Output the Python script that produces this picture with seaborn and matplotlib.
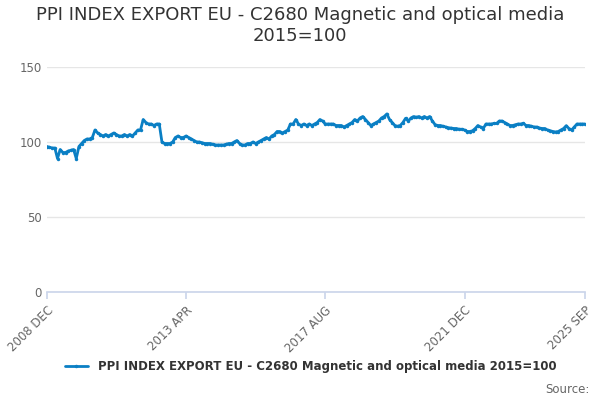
import pandas as pd
import matplotlib.pyplot as plt
import seaborn as sns

# Monthly values, Dec 2008 .. Sep 2025
values = [
    97, 96.5, 96, 96, 89, 95, 93, 93, 94, 94.5, 95, 89,
    97, 99, 101, 102, 102, 103, 108, 106, 105, 104, 105, 104,
    105, 106, 105, 104, 104, 105, 104, 105, 104, 106, 108, 108,
    115, 113, 112, 112, 111, 112, 112, 100, 99, 99, 99, 100,
    103, 104, 103, 103, 104, 103, 102, 101, 100, 100, 99.5, 99,
    99, 99, 98.5, 98, 98, 98, 98, 98.5, 99, 99, 100, 101,
    99, 98, 98, 99, 99, 100, 99, 100, 101, 102, 103, 102,
    104, 105, 107, 107, 106, 107, 108, 112, 112, 115, 112, 111,
    112, 111, 112, 111, 112, 113, 115, 114, 112, 112, 112, 112,
    111, 111, 111, 110, 111, 112, 113, 115, 114, 116, 117, 115,
    113, 111, 112, 113, 114, 116, 117, 118.7, 115, 113, 111, 110.5,
    111, 113, 115.8, 114, 116, 117, 116.5, 117, 116, 117, 116, 117,
    114, 111.6, 111, 111, 110.5, 110, 109.5, 109.3, 109, 109, 108.5, 108.5,
    108, 107, 107, 107.5, 109, 111, 110, 109, 112, 112, 112, 112.4,
    112.4, 114, 114, 113, 112, 111, 111, 111.5, 112, 112, 112.4, 111,
    111, 110.5, 110, 110, 109.3, 109, 109, 108, 107.5, 107, 106.7, 107,
    108, 109, 110.9, 109, 108, 110, 112, 112, 112, 112,
]
tick_pos = [0, 52, 104, 156, 201]
tick_labels = ["2008 DEC", "2013 APR", "2017 AUG", "2021 DEC", "2025 SEP"]
series_name = "PPI INDEX EXPORT EU - C2680 Magnetic and optical media 2015=100"

df = pd.DataFrame({"month": range(len(values)), "value": values})

sns.set_theme(style="white")
plt.rcParams['font.family'] = ['DejaVu Sans']

fig = plt.figure(figsize=(6, 4), dpi=100)
ax = fig.add_axes([0.078, 0.27, 0.897, 0.5625])

sns.lineplot(data=df, x="month", y="value", ax=ax, color="#0a7fc4",
             linewidth=2, marker="o", markersize=2.5, markeredgewidth=0,
             label=series_name)

ax.set_xlim(0, len(values) - 1)
ax.set_ylim(0, 150)
ax.set_yticks([0, 50, 100, 150])
ax.yaxis.grid(True, color="#e6e6e6", linewidth=1)
ax.set_xticks(tick_pos)
ax.set_xticklabels(tick_labels, rotation=45, ha="right", rotation_mode="anchor")
ax.tick_params(axis="x", length=5, color="#ccd6eb", colors="#666666", labelsize=8.5, bottom=True)
ax.tick_params(axis="y", length=0, colors="#666666", labelsize=8.5)
for s in ["top", "right", "left"]:
    ax.spines[s].set_visible(False)
ax.spines["bottom"].set_color("#ccd6eb")
ax.set_xlabel("")
ax.set_ylabel("")

fig.suptitle("PPI INDEX EXPORT EU - C2680 Magnetic and optical media\n2015=100",
             y=0.985, fontsize=13, color="#333333", linespacing=1.2)

ax.legend(loc="upper center", bbox_to_anchor=(0.49, -0.255), frameon=False,
          fontsize=8.5, handlelength=2, labelcolor="#333333",
          prop={"weight": "bold", "size": 8.5})
fig.text(0.982, 0.01, "Source:", ha="right", va="bottom", fontsize=8.5, color="#666666")

fig.savefig("out.png", dpi=100)
